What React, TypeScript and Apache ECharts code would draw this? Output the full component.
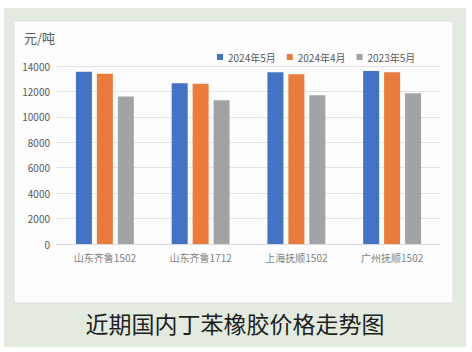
import React, { useEffect, useRef } from "react";
import * as echarts from "echarts";

const categories = ["山东齐鲁1502", "山东齐鲁1712", "上海抚顺1502", "广州抚顺1502"];
const seriesNames = ["2024年5月", "2024年4月", "2023年5月"];
const may2024 = [13550, 12650, 13500, 13600];
const apr2024 = [13400, 12600, 13350, 13500];
const may2023 = [11600, 11300, 11700, 11850];
const colors = ["#4472C4", "#E97B3C", "#A3A3A6"];
const unitLabel = "元/吨";
const titleText = "近期国内丁苯橡胶价格走势图";

export default function App() {
  const ref = useRef<HTMLDivElement>(null);
  useEffect(() => {
    if (!ref.current) return;
    const chart = echarts.init(ref.current, undefined, { renderer: "svg" });
    const font = "'Noto Sans CJK SC', 'Noto Sans', sans-serif";
    const data = [may2024, apr2024, may2023];
    chart.setOption({
      animation: false,
      backgroundColor: "#ffffff",
      textStyle: { fontFamily: font },
      graphic: [
        {
          type: "rect",
          z: -10,
          shape: { x: 4, y: 8, width: 462, height: 339 },
          style: { fill: "#e3ebe1" },
          silent: true,
        },
        {
          type: "rect",
          z: -9,
          shape: { x: 14, y: 21, width: 439, height: 282 },
          style: { fill: "#fdfdfd", stroke: "#e2dede", lineWidth: 1 },
          silent: true,
        },
        {
          type: "text",
          x: 24,
          y: 31,
          style: { text: unitLabel, fontSize: 13, fill: "#595959", fontFamily: font },
        },
        {
          type: "text",
          x: 235,
          y: 323,
          style: {
            text: titleText,
            fontSize: 23,
            fill: "#1e1e1e",
            fontFamily: font,
            align: "center",
            verticalAlign: "middle",
          },
        },
      ],
      legend: {
        data: seriesNames,
        left: 212,
        top: 47,
        itemWidth: 6,
        itemHeight: 6,
        itemGap: 11,
        icon: "rect",
        textStyle: { fontSize: 10, color: "#595959", fontFamily: font },
      },
      grid: { left: 57, right: 32, top: 66, bottom: 108, containLabel: false },
      xAxis: {
        type: "category",
        data: categories,
        axisLine: { lineStyle: { color: "#d9d9d9" } },
        axisTick: { show: false },
        axisLabel: { fontSize: 10, color: "#7f7f7f", margin: 8, fontFamily: font },
      },
      yAxis: {
        type: "value",
        min: 0,
        max: 14000,
        interval: 2000,
        axisLine: { show: false },
        axisTick: { show: false },
        splitLine: { lineStyle: { color: "#e3e3e3" } },
        axisLabel: {
          fontSize: 10,
          color: "#595959",
          margin: 7,
          fontFamily: font,
          formatter: (v: number) => String(v),
        },
      },
      series: seriesNames.map((name, i) => ({
        name,
        type: "bar",
        data: data[i],
        barWidth: 16,
        barGap: "31%",
        itemStyle: { color: colors[i] },
      })),
    });
    return () => chart.dispose();
  }, []);
  return (
    <div
      ref={ref}
      style={{ position: "fixed", left: 0, top: 0, width: 472, height: 352 }}
    />
  );
}
